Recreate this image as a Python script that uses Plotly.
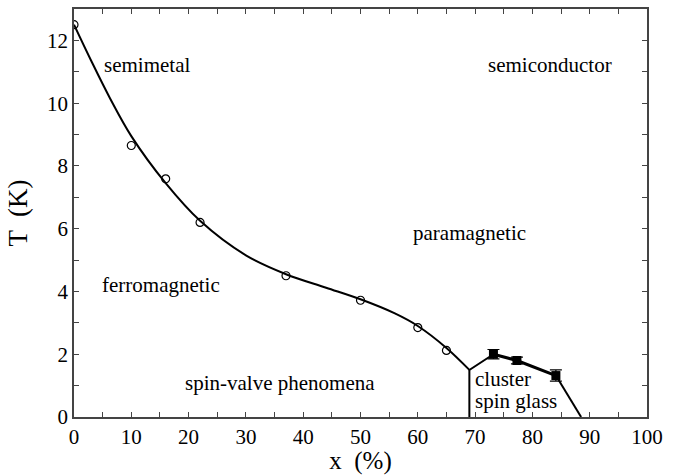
import plotly.graph_objects as go

# Measured Curie temperatures (open circles)
circle_x = [0, 10, 16, 22, 37, 50, 60, 65]
circle_y = [12.5, 8.65, 7.59, 6.2, 4.5, 3.72, 2.85, 2.12]

# Guide-to-the-eye curve
curve_x = [0, 3, 6.3, 10, 16, 22, 30, 37, 44, 50, 56, 60, 65, 69]
curve_y = [12.5, 11.35, 10.15, 8.95, 7.45, 6.25, 5.15, 4.55, 4.12, 3.75, 3.3, 2.9, 2.2, 1.5]

# Spin-glass freezing temperatures (filled squares with error bars)
glass_x = [73.2, 77.3, 84.1]
glass_y = [2.0, 1.8, 1.32]
glass_err = [0.15, 0.11, 0.18]

# Phase boundary of the cluster spin glass region
left_bound_x = [69, 69, 73.2]
left_bound_y = [0, 1.5, 2.0]
right_bound_x = [84.1, 88.5]
right_bound_y = [1.32, 0]

# Region labels
labels = ["semimetal", "semiconductor", "paramagnetic", "ferromagnetic",
          "spin-valve phenomena", "cluster", "spin glass"]
label_x = [4.8, 83, 69, 4.5, 19, 69.6, 69.6]
label_y = [11.2, 11.2, 5.86, 4.2, 1.07, 1.22, 0.5]
label_anchor = ["left", "center", "center", "left", "left", "left", "left"]

FONT = "Liberation Serif, Times New Roman, DejaVu Serif, serif"

fig = go.Figure()
fig.add_trace(go.Scatter(x=curve_x, y=curve_y, mode="lines",
                         line=dict(color="black", width=2, shape="spline", smoothing=1.0),
                         hoverinfo="skip"))
fig.add_trace(go.Scatter(x=left_bound_x, y=left_bound_y, mode="lines",
                         line=dict(color="black", width=2)))
fig.add_trace(go.Scatter(x=right_bound_x, y=right_bound_y, mode="lines",
                         line=dict(color="black", width=2)))
fig.add_trace(go.Scatter(x=glass_x, y=glass_y, mode="lines+markers",
                         line=dict(color="black", width=3),
                         marker=dict(symbol="square", size=9, color="black"),
                         error_y=dict(type="data", array=glass_err, visible=True,
                                      color="black", thickness=1.2, width=6)))
fig.add_trace(go.Scatter(x=circle_x, y=circle_y, mode="markers",
                         marker=dict(symbol="circle-open", size=8, color="black",
                                     line=dict(width=1.2))))

for t, x, y, a in zip(labels, label_x, label_y, label_anchor):
    fig.add_annotation(x=x, y=y, text=t, showarrow=False, xanchor=a, yanchor="middle",
                       font=dict(family=FONT, size=21, color="black"))

axis_common = dict(showline=True, linecolor="#444", linewidth=1.5, mirror="ticks",
                   ticks="inside", ticklen=5, tickwidth=1.2, tickcolor="#444",
                   showgrid=False, zeroline=False,
                   tickfont=dict(family=FONT, size=21, color="black"))

fig.update_xaxes(range=[0, 100], dtick=10, tick0=0,
                 minor=dict(dtick=5, ticks="inside", ticklen=5, tickcolor="#444", showgrid=False),
                 title=dict(text="x  (%)", font=dict(family=FONT, size=25, color="black"), standoff=2),
                 **axis_common)
fig.update_yaxes(range=[0, 13], dtick=2, tick0=0,
                 minor=dict(dtick=1, ticks="inside", ticklen=5, tickcolor="#444", showgrid=False),
                 title=dict(text="T  (K)", font=dict(family=FONT, size=27, color="black"), standoff=12),
                 **axis_common)

fig.update_layout(width=682, height=475, margin=dict(l=74, r=35, t=7, b=53),
                  plot_bgcolor="white", paper_bgcolor="white", showlegend=False,
                  font=dict(family=FONT))

fig.write_html("out.html")
